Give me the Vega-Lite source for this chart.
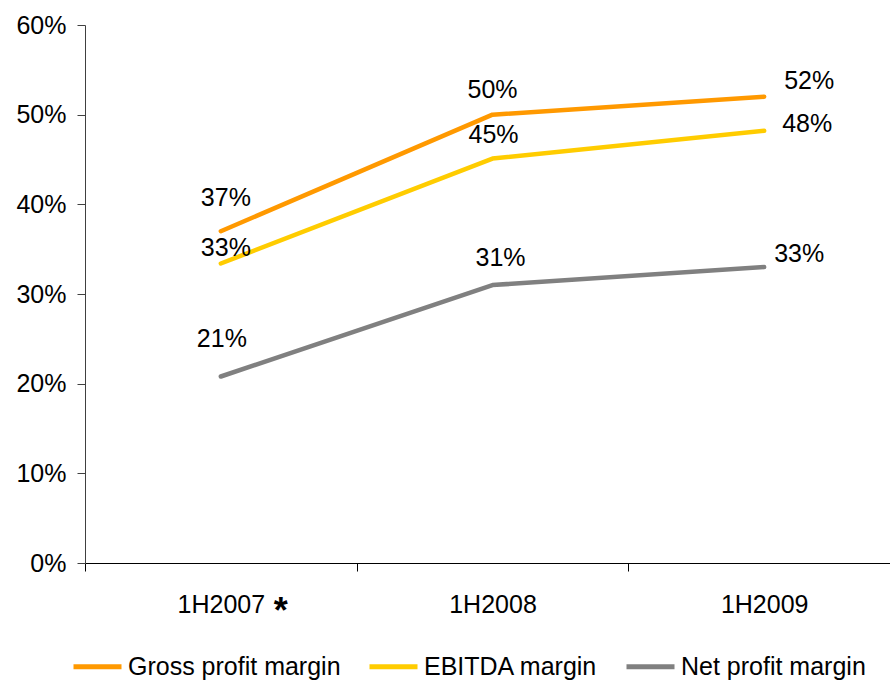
{
  "$schema": "https://vega.github.io/schema/vega-lite/v6.json",
  "width": 805,
  "height": 538,
  "autosize": {"type": "none"},
  "padding": {"left": 85, "top": 25, "right": 0, "bottom": 117},
  "background": "white",
  "config": {
    "view": {"stroke": null},
    "font": "Liberation Sans",
    "text": {"font": "Liberation Sans", "fontSize": 25, "color": "#000000", "baseline": "middle", "align": "center"}
  },
  "data": {
    "values": [
      {"period": "1H2007", "series": "Gross profit margin", "value": 0.37},
      {"period": "1H2008", "series": "Gross profit margin", "value": 0.50},
      {"period": "1H2009", "series": "Gross profit margin", "value": 0.52},
      {"period": "1H2007", "series": "EBITDA margin", "value": 0.334},
      {"period": "1H2008", "series": "EBITDA margin", "value": 0.451},
      {"period": "1H2009", "series": "EBITDA margin", "value": 0.482},
      {"period": "1H2007", "series": "Net profit margin", "value": 0.208},
      {"period": "1H2008", "series": "Net profit margin", "value": 0.31},
      {"period": "1H2009", "series": "Net profit margin", "value": 0.33}
    ]
  },
  "encoding": {
    "x": {
      "field": "period",
      "type": "nominal",
      "bandPosition": 0.5,
      "sort": ["1H2007", "1H2008", "1H2009"],
      "scale": {"type": "band", "range": [0, 815], "paddingInner": 0, "paddingOuter": 0},
      "axis": {
        "title": null,
        "labelAngle": 0,
        "labelFont": "Liberation Sans",
        "labelFontSize": 25,
        "labelColor": "#000000",
        "labelPadding": 21,
        "tickBand": "extent",
        "tickSize": 8,
        "tickColor": "#000000",
        "tickWidth": 1,
        "domainColor": "#000000",
        "domainWidth": 1.2,
        "grid": false
      }
    },
    "y": {
      "field": "value",
      "type": "quantitative",
      "scale": {"domain": [0, 0.6], "nice": false},
      "axis": {
        "title": null,
        "format": ".0%",
        "values": [0, 0.1, 0.2, 0.3, 0.4, 0.5, 0.6],
        "labelFont": "Liberation Sans",
        "labelFontSize": 25,
        "labelColor": "#000000",
        "labelPadding": 11,
        "tickSize": 8,
        "tickColor": "#404040",
        "domainColor": "#404040",
        "domainWidth": 1,
        "grid": false
      }
    }
  },
  "layer": [
    {
      "mark": {"type": "line", "strokeWidth": 4.5, "strokeCap": "round", "strokeJoin": "round"},
      "encoding": {
        "color": {
          "field": "series",
          "type": "nominal",
          "scale": {
            "domain": ["Gross profit margin", "EBITDA margin", "Net profit margin"],
            "range": ["#FF9900", "#FFCC00", "#808080"]
          },
          "legend": {
            "title": null,
            "orient": "none",
            "direction": "horizontal",
            "columns": 3,
            "legendX": -14,
            "legendY": 615,
            "padding": 0,
            "symbolType": "stroke",
            "symbolSize": 2304,
            "symbolStrokeWidth": 5,
            "labelFont": "Liberation Sans",
            "labelFontSize": 25,
            "labelColor": "#000000",
            "labelLimit": 0,
            "labelOffset": 4,
            "columnPadding": 18
          }
        }
      }
    },
    {
      "transform": [{"filter": "datum.period === '1H2007' && datum.series === 'Gross profit margin'"}],
      "mark": {"type": "text", "dx": 5, "dy": -33},
      "encoding": {"text": {"field": "value", "format": ".0%"}}
    },
    {
      "transform": [{"filter": "datum.period === '1H2007' && datum.series === 'EBITDA margin'"}],
      "mark": {"type": "text", "dx": 5, "dy": -16},
      "encoding": {"text": {"field": "value", "format": ".0%"}}
    },
    {
      "transform": [{"filter": "datum.period === '1H2007' && datum.series === 'Net profit margin'"}],
      "mark": {"type": "text", "dx": 1, "dy": -37},
      "encoding": {"text": {"field": "value", "format": ".0%"}}
    },
    {
      "transform": [{"filter": "datum.period === '1H2008' && datum.series === 'Gross profit margin'"}],
      "mark": {"type": "text", "dx": 0, "dy": -25},
      "encoding": {"text": {"field": "value", "format": ".0%"}}
    },
    {
      "transform": [{"filter": "datum.period === '1H2008' && datum.series === 'EBITDA margin'"}],
      "mark": {"type": "text", "dx": 1, "dy": -24},
      "encoding": {"text": {"field": "value", "format": ".0%"}}
    },
    {
      "transform": [{"filter": "datum.period === '1H2008' && datum.series === 'Net profit margin'"}],
      "mark": {"type": "text", "dx": 8, "dy": -27},
      "encoding": {"text": {"field": "value", "format": ".0%"}}
    },
    {
      "transform": [{"filter": "datum.period === '1H2009' && datum.series === 'Gross profit margin'"}],
      "mark": {"type": "text", "dx": 45, "dy": -16},
      "encoding": {"text": {"field": "value", "format": ".0%"}}
    },
    {
      "transform": [{"filter": "datum.period === '1H2009' && datum.series === 'EBITDA margin'"}],
      "mark": {"type": "text", "dx": 43, "dy": -7},
      "encoding": {"text": {"field": "value", "format": ".0%"}}
    },
    {
      "transform": [{"filter": "datum.period === '1H2009' && datum.series === 'Net profit margin'"}],
      "mark": {"type": "text", "dx": 35, "dy": -13},
      "encoding": {"text": {"field": "value", "format": ".0%"}}
    },
    {
      "transform": [{"filter": "datum.period === '1H2007' && datum.series === 'Gross profit margin'"}],
      "mark": {"type": "text", "text": "*", "fontSize": 36, "fontWeight": "bold", "baseline": "alphabetic", "dx": 60, "dy": 60},
      "encoding": {"y": {"datum": 0}}
    }
  ]
}
